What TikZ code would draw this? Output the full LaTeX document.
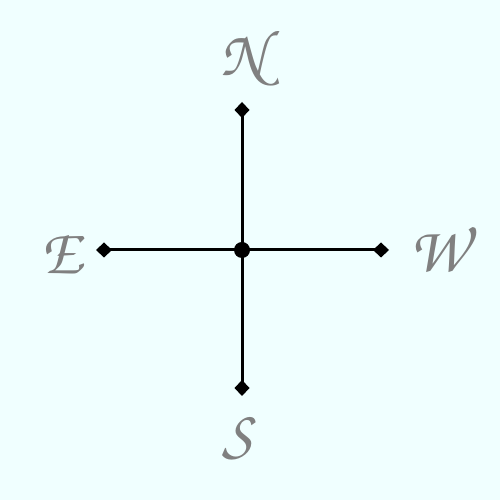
\documentclass[tikz,border=0pt]{standalone}
\usepackage[T1]{fontenc}
\usetikzlibrary{arrows.meta}
\begin{document}
\begin{tikzpicture}[
  arm/.style={line width=1.7pt, -{Diamond[length=0.32cm,width=0.3cm]}},
  lbl/.style={text=gray, font=\fontfamily{pzc}\fontseries{mb}\fontshape{it}\fontsize{37}{44}\selectfont, inner sep=0pt}
]
\fill[fill={rgb,255:red,240;green,255;blue,255}] (0,0) rectangle (10,10);
\useasboundingbox (0,0) rectangle (10,10);
\coordinate (c) at (4.84,5);
\coordinate (n) at (4.84,7.96);
\coordinate (s) at (4.84,2.08);
\coordinate (e) at (1.92,5);
\coordinate (w) at (7.78,5);
\draw[arm] (c) -- (n);
\draw[arm] (c) -- (s);
\draw[arm] (c) -- (e);
\draw[arm] (c) -- (w);
\fill (c) circle (0.16);
\node[lbl] (N) at (4.86,8.84) {N};
\node[lbl] (E) at (1.24,4.92) {E};
\node[lbl] (W) at (8.76,5.02) {W};
\node[lbl] (S) at (4.74,1.24) {S};
\end{tikzpicture}
\end{document}
